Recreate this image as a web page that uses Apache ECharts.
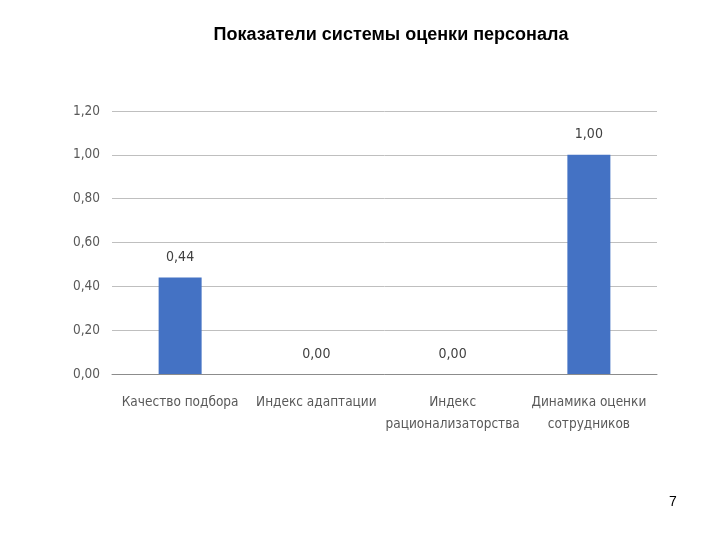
<!DOCTYPE html>
<html><head><meta charset="utf-8">
<script src="https://cdn.jsdelivr.net/npm/echarts@6/dist/echarts.min.js"></script>
<style>html,body{margin:0;padding:0;background:#fff}#c{width:720px;height:540px}</style>
</head><body><div id="c"></div>
<script>
const titleText = 'Показатели системы оценки персонала';
const categories = ['Качество подбора', 'Индекс адаптации', 'Индекс\nрационализаторства', 'Динамика оценки\nсотрудников'];
const values = [0.44, 0.00, 0.00, 1.00];
const pageNumber = '7';
const fmt = v => Number(v).toFixed(2).replace('.', ',');
const narrow = "'Liberation Sans Narrow','DejaVu Sans Condensed','Roboto Condensed',sans-serif";
const chart = echarts.init(document.getElementById('c'));
chart.setOption({
  animation: false,
  title: [{
    text: titleText, left: 386, top: 21, textAlign: 'center',
    textStyle: {fontFamily: 'Liberation Sans, Arial, sans-serif', fontWeight: 'bold', fontSize: 18, color: '#000'}
  }],
  graphic: [{type: 'text', left: 669, top: 495, style: {text: pageNumber, font: '14px Liberation Sans, Arial, sans-serif', fill: '#000'}}],
  grid: {left: 112, right: 63, top: 111, bottom: 166, containLabel: false},
  xAxis: {
    type: 'category', data: categories,
    axisLine: {show: true, lineStyle: {color: '#8c8c8c', width: 1}},
    axisTick: {show: false},
    axisLabel: {color: '#595959', fontFamily: narrow, fontSize: 13.5, margin: 17, lineHeight: 22, interval: 0}
  },
  yAxis: {
    type: 'value', min: 0, max: 1.2, interval: 0.2,
    axisLine: {show: false}, axisTick: {show: false},
    splitLine: {lineStyle: {color: '#bfbfbf', width: 1}},
    axisLabel: {color: '#595959', fontFamily: narrow, fontSize: 13.5, margin: 12, formatter: v => fmt(v)}
  },
  series: [{
    type: 'bar', data: values, barWidth: 43,
    itemStyle: {color: '#4472c4'},
    label: {show: true, position: 'top', distance: 13, color: '#404040', fontFamily: narrow, fontSize: 14, formatter: p => fmt(p.value)}
  }]
});
</script></body></html>
